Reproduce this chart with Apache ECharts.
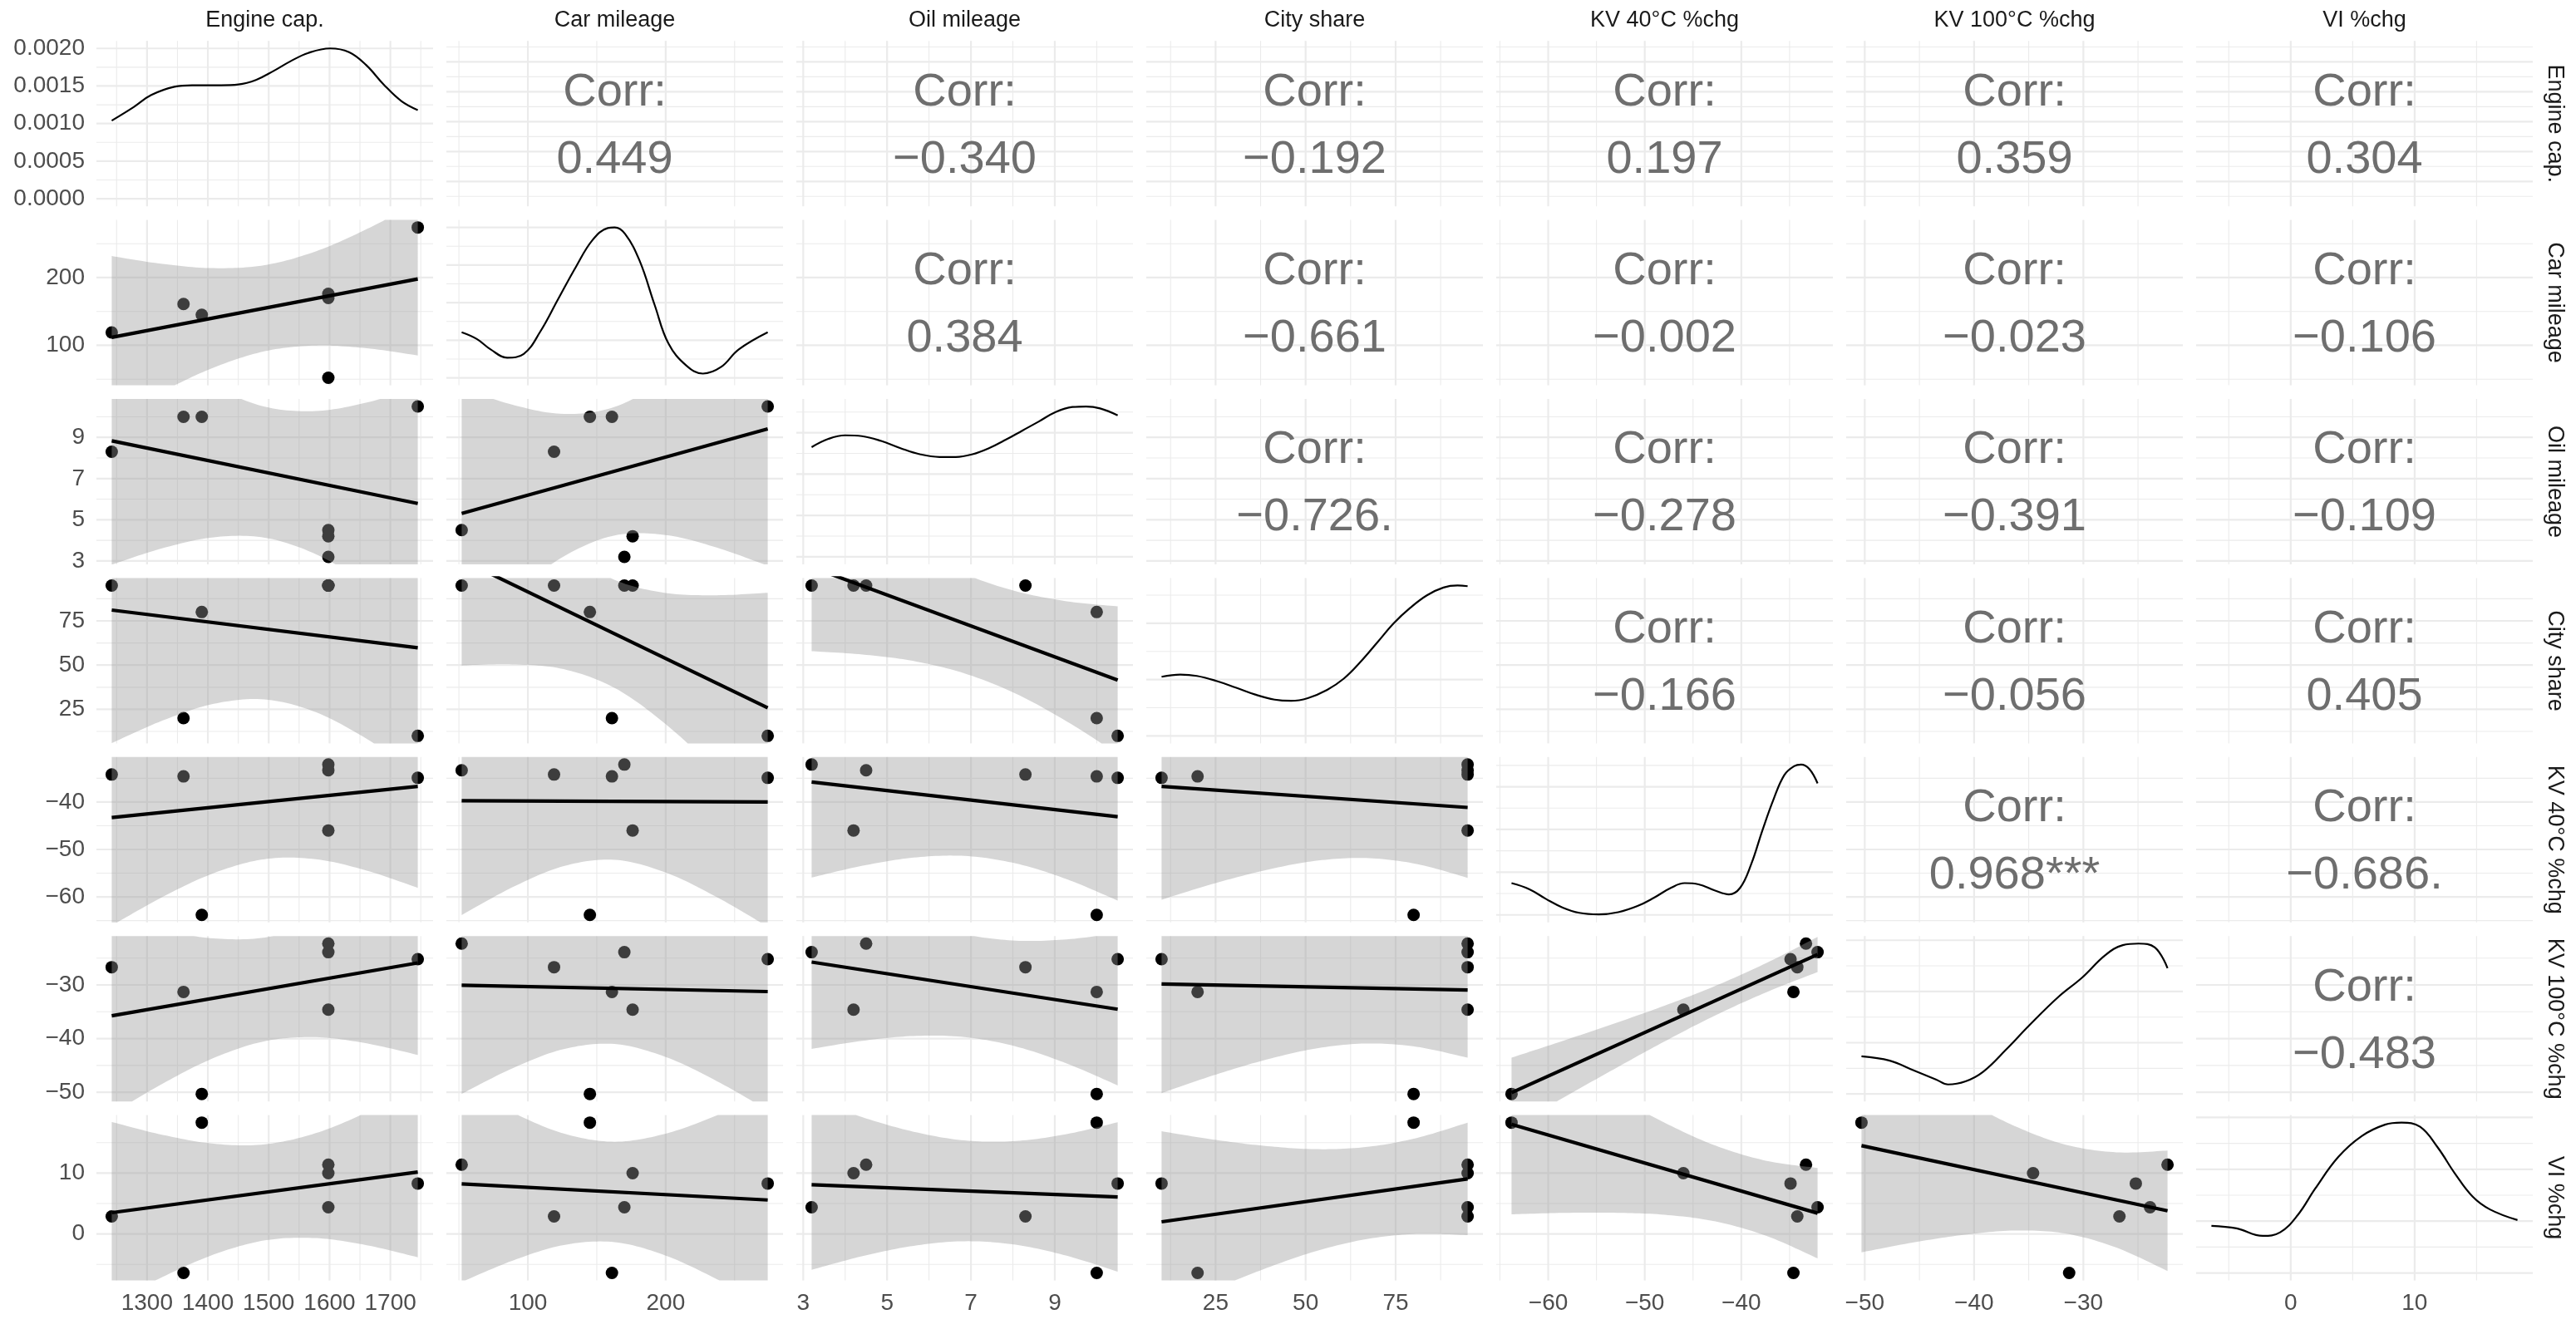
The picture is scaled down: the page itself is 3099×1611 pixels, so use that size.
<!DOCTYPE html>
<html><head><meta charset="utf-8">
<script src="https://cdn.jsdelivr.net/npm/echarts@6.0.0/dist/echarts.min.js"></script>
<style>html,body{margin:0;padding:0;background:#fff}#c{width:3099px;height:1611px}</style>
</head><body><div id="c"></div>
<script>
// ---------- variables (7 observations) ----------
const varLabels = ['Engine cap.', 'Car mileage', 'Oil mileage', 'City share', 'KV 40°C %chg', 'KV 100°C %chg', 'VI %chg'];
const engineCap  = [1242, 1360, 1390, 1598, 1598, 1598, 1745];
const carMileage = [119, 161, 145, 52, 176, 170, 274];
const oilMileage = [8.3, 10.0, 10.0, 4.5, 4.2, 3.2, 10.5];
const cityShare  = [95, 20, 80, 95, 95, 95, 10];
const kv40Chg    = [-34.2, -34.6, -63.8, -33.3, -46.0, -32.1, -34.9];
const kv100Chg   = [-26.7, -31.3, -50.3, -22.3, -34.6, -23.9, -25.2];
const viChg      = [2.9, -6.4, 18.3, 11.4, 10.0, 4.4, 8.3];

// ---------- tick values ----------
const majorENG = [1300, 1400, 1500, 1600, 1700], minorENG = [1250, 1350, 1450, 1550, 1650, 1750];
const majorCAR = [100, 200], minorCAR = [50, 150, 250];
const majorOIL = [3, 5, 7, 9], minorOIL = [4, 6, 8, 10];
const majorCITY = [25, 50, 75], minorCITY = [12.5, 37.5, 62.5, 87.5];
const majorK40 = [-60, -50, -40], minorK40 = [-65, -55, -45, -35];
const majorK100 = [-50, -40, -30], minorK100 = [-45, -35, -25];
const majorVI = [0, 10], minorVI = [-5, 5, 15];

// ---------- upper panel correlation texts ----------
const corrText = ['0.449', '\u22120.340', '\u22120.192', '0.197', '0.359', '0.304',
  '0.384', '\u22120.661', '\u22120.002', '\u22120.023', '\u22120.106',
  '\u22120.726.', '\u22120.278', '\u22120.391', '\u22120.109',
  '\u22120.166', '\u22120.056', '0.405',
  '0.968***', '\u22120.686.',
  '\u22120.483'];

// ---------- diagonal densities ----------
const dens_ENG = [[1242,0.00104],[1278,0.00122],[1307,0.00138],[1345,0.00149],[1374,0.00151],[1422,0.00151],[1450,0.00152],[1479,0.00158],[1508,0.00170],[1536,0.00183],[1565,0.00194],[1601,0.00200],[1632,0.00195],[1660,0.00178],[1689,0.00152],[1718,0.00130],[1745,0.00118]];
const dens_CAR = [[52,0.00303],[63,0.00258],[73,0.00189],[85,0.00134],[97,0.00159],[109,0.00307],[122,0.00524],[135,0.0074],[147,0.00917],[158,0.00996],[163,0.0100],[170.5,0.00957],[181,0.0078],[192,0.00484],[202,0.00228],[215,0.00081],[227,0.00028],[240,0.00071],[253,0.00189],[274,0.00303]];
const dens_OIL = [[3.2,0.0795],[3.6,0.0855],[4.0,0.0881],[4.4,0.0875],[4.86,0.0840],[5.32,0.0788],[5.78,0.0744],[6.25,0.0724],[6.64,0.0724],[7.04,0.0744],[7.43,0.0788],[7.83,0.0849],[8.23,0.0916],[8.62,0.0981],[9.02,0.1050],[9.42,0.1086],[9.75,0.1090],[10.08,0.1076],[10.5,0.1026]];
const dens_CITY = [[10,0.00525],[15.2,0.00544],[19.8,0.00532],[25.2,0.00488],[30.6,0.00429],[36.0,0.00367],[41.4,0.00322],[46.0,0.00311],[50.6,0.00335],[56.0,0.00409],[60.6,0.00508],[65.2,0.00655],[69.9,0.00829],[74.5,0.01001],[79.1,0.01138],[83.7,0.01248],[88.3,0.01317],[92.2,0.01335],[95,0.01329]];
const dens_K40 = [[-63.8,0.0186],[-61.94,0.0150],[-60.22,0.0093],[-58.5,0.0043],[-56.78,0.0012],[-54.77,0.0003],[-52.75,0.0016],[-50.75,0.0052],[-49.03,0.0101],[-47.3,0.0158],[-45.87,0.0186],[-44.43,0.0179],[-42.71,0.0142],[-41.28,0.0120],[-40.13,0.0158],[-38.98,0.0296],[-37.83,0.0492],[-36.69,0.0672],[-35.54,0.0819],[-34.54,0.0870],[-33.81,0.0880],[-32.95,0.0854],[-32.1,0.0770]];
const dens_K100 = [[-50.3,0.0147],[-47.71,0.0130],[-45.58,0.0093],[-43.45,0.0056],[-42.38,0.0037],[-40.78,0.0049],[-39.18,0.0086],[-37.05,0.0174],[-34.92,0.0269],[-32.25,0.0380],[-30.12,0.0454],[-27.99,0.0542],[-26.39,0.0581],[-24.95,0.0587],[-23.46,0.0572],[-22.3,0.0491]];
const dens_VI = [[-6.4,0.0182],[-4.37,0.0172],[-2.26,0.0143],[-0.85,0.0157],[0.56,0.0223],[1.97,0.0325],[3.85,0.0448],[5.73,0.0528],[7.61,0.0572],[8.94,0.0580],[10.44,0.0564],[11.85,0.0485],[13.26,0.0383],[14.67,0.0295],[16.08,0.0245],[18.3,0.0204]];

const densMajor_ENG = [0, 0.0005, 0.001, 0.0015, 0.002], densMinor_ENG = [0.00025, 0.00075, 0.00125, 0.00175];
const densMajor_CAR = [0, 0.0025, 0.005, 0.0075, 0.01], densMinor_CAR = [0.00125, 0.00375, 0.00625, 0.00875];
const densMajor_OIL = [0, 0.03, 0.06, 0.09], densMinor_OIL = [0.015, 0.045, 0.075, 0.105];
const densMajor_CITY = [0, 0.005, 0.01], densMinor_CITY = [0.0025, 0.0075, 0.0125];
const densMajor_K40 = [0, 0.025, 0.05, 0.075], densMinor_K40 = [0.0125, 0.0375, 0.0625, 0.0875];
const densMajor_K100 = [0, 0.02, 0.04, 0.06], densMinor_K100 = [0.01, 0.03, 0.05];
const densMajor_VI = [0, 0.02, 0.04, 0.06], densMinor_VI = [0.01, 0.03, 0.05];

// ---------- fitted lines (end points) ----------
const fit_CAR_ENG = [[1242,111.7],[1745,198.0]];
const fit_OIL_ENG = [[1242,8.83],[1745,5.79]];
const fit_CITY_ENG = [[1242,81.1],[1745,59.8]];
const fit_K40_ENG = [[1242,-43.29],[1745,-36.69]];
const fit_K100_ENG = [[1242,-35.75],[1745,-25.90]];
const fit_VI_ENG = [[1242,3.51],[1745,10.18]];
const fit_OIL_CAR = [[52,5.31],[274,9.41]];
const fit_CITY_CAR = [[52,109.5],[274,25.8]];
const fit_K40_CAR = [[52,-39.72],[274,-39.98]];
const fit_K100_CAR = [[52,-30.06],[274,-31.24]];
const fit_VI_CAR = [[52,8.24],[274,5.59]];
const fit_CITY_OIL = [[3.2,105.4],[10.5,41.5]];
const fit_K40_OIL = [[3.2,-35.80],[10.5,-43.10]];
const fit_K100_OIL = [[3.2,-25.75],[10.5,-34.53]];
const fit_VI_OIL = [[3.2,8.10],[10.5,6.09]];
const fit_K40_CITY = [[10,-36.71],[95,-41.15]];
const fit_K100_CITY = [[10,-29.83],[95,-30.94]];
const fit_VI_CITY = [[10,2.00],[95,9.06]];
const fit_K100_K40 = [[-63.8,-50.05],[-32.1,-24.33]];
const fit_VI_K40 = [[-63.8,18.01],[-32.1,3.42]];
const fit_VI_K100 = [[-50.3,14.51],[-22.3,3.81]];

// ---------- confidence bands [x, lower, upper] ----------
const band_CAR_ENG = [[1242,-8.4,231.8],[1325.8,32.1,220.1],[1409.7,67.1,213.9],[1493.5,91.2,218.4],[1577.3,99.7,238.7],[1661.2,95.6,271.6],[1745,85.0,311.0]];
const band_OIL_ENG = [[1242,2.82,14.83],[1325.8,3.62,13.02],[1409.7,4.15,11.48],[1493.5,4.13,10.49],[1577.3,3.33,10.28],[1661.2,1.90,10.69],[1745,0.15,11.44]];
const band_CITY_ENG = [[1242,5.9,156.3],[1325.8,18.7,136.4],[1409.7,28.1,120.0],[1493.5,30.6,110.3],[1577.3,23.4,110.5],[1661.2,8.3,118.5],[1745,-10.9,130.6]];
const band_K40_ENG = [[1242,-66.05,-20.53],[1325.8,-60.0,-24.37],[1409.7,-54.99,-27.18],[1493.5,-52.04,-27.94],[1577.3,-52.06,-25.71],[1661.2,-54.46,-21.11],[1745,-58.10,-15.27]];
const band_K100_ENG = [[1242,-53.97,-17.53],[1325.8,-48.37,-19.85],[1409.7,-43.60,-21.34],[1493.5,-40.48,-21.18],[1577.3,-39.73,-18.65],[1661.2,-40.89,-14.20],[1745,-43.04,-8.76]];
const band_VI_ENG = [[1242,-11.39,18.40],[1325.8,-7.04,16.28],[1409.7,-3.37,14.83],[1493.5,-1.05,14.73],[1577.3,-0.67,16.57],[1661.2,-1.84,19.98],[1745,-3.83,24.19]];
const band_OIL_CAR = [[52,-0.78,11.40],[89,1.40,10.58],[126,3.22,10.14],[163,4.24,10.48],[200,4.26,11.83],[237,3.65,13.80],[274,2.77,16.05]];
const band_CITY_CAR = [[52,49.8,169.2],[89,50.5,140.5],[126,47.7,115.5],[163,37.1,98.2],[200,16.6,90.8],[237,-10.0,89.5],[274,-39.3,90.9]];
const band_K40_CAR = [[52,-63.84,-15.60],[89,-57.95,-21.58],[126,-53.51,-26.11],[163,-52.19,-27.51],[200,-54.87,-24.91],[237,-60.04,-19.84],[274,-66.28,-13.68]];
const band_K100_CAR = [[52,-50.29,-9.82],[89,-45.51,-14.99],[126,-41.95,-18.95],[163,-41.00,-20.30],[200,-43.42,-18.28],[237,-47.90,-14.18],[274,-53.31,-9.17]];
const band_VI_CAR = [[52,-7.89,24.37],[89,-4.37,19.95],[126,-1.81,16.51],[163,-1.34,15.16],[200,-3.55,16.49],[237,-7.41,19.47],[274,-12.00,23.18]];
const band_CITY_OIL = [[3.2,57.9,152.8],[4.417,56.0,133.4],[5.633,52.3,115.9],[6.85,45.3,101.5],[8.067,33.9,91.8],[9.283,18.2,86.1],[10.5,-0.2,83.2]];
const band_K40_OIL = [[3.2,-55.92,-15.68],[4.417,-53.43,-20.61],[5.633,-51.72,-24.74],[6.85,-51.37,-27.53],[8.067,-52.94,-28.40],[9.283,-56.26,-27.50],[10.5,-60.77,-25.43]];
const band_K100_OIL = [[3.2,-41.90,-9.60],[4.417,-40.40,-14.04],[5.633,-39.51,-17.85],[6.85,-39.71,-20.57],[8.067,-41.45,-21.75],[9.283,-44.62,-21.52],[10.5,-48.71,-20.35]];
const band_VI_OIL = [[3.2,-5.88,22.08],[4.417,-3.63,19.17],[5.633,-1.94,16.80],[6.85,-1.19,15.37],[8.067,-1.76,15.28],[9.283,-3.57,16.41],[10.5,-6.18,18.36]];
const band_K40_CITY = [[10,-60.59,-12.83],[24.17,-57.28,-17.62],[38.33,-54.46,-21.92],[52.5,-52.43,-25.43],[66.67,-51.81,-27.53],[80.83,-53.06,-27.76],[95,-55.98,-26.32]];
const band_K100_CITY = [[10,-50.15,-9.51],[24.17,-46.89,-13.15],[38.33,-44.05,-16.35],[52.5,-41.88,-18.90],[66.67,-40.91,-20.23],[80.83,-41.52,-19.99],[95,-43.56,-18.32]];
const band_VI_CITY = [[10,-12.88,16.88],[24.17,-9.17,15.53],[38.33,-5.78,14.50],[52.5,-2.88,13.94],[66.67,-0.86,14.28],[80.83,0.01,15.77],[95,-0.18,18.30]];
const band_K100_K40 = [[-63.8,-56.55,-43.55],[-58.52,-51.09,-40.44],[-53.23,-45.73,-37.23],[-47.95,-40.52,-33.87],[-42.67,-35.65,-30.17],[-37.38,-31.34,-25.90],[-32.1,-27.60,-21.06]];
const band_VI_K40 = [[-63.8,3.23,32.79],[-58.52,3.47,27.69],[-53.23,3.49,22.81],[-47.95,3.16,18.28],[-42.67,2.06,14.52],[-37.38,-0.32,12.02],[-32.1,-4.01,10.85]];
const band_VI_K100 = [[-50.3,-3.00,32.02],[-45.63,-1.42,26.88],[-40.97,-0.14,22.03],[-36.3,0.57,17.75],[-31.63,0.08,14.68],[-26.97,-2.24,13.42],[-22.3,-6.08,13.70]];

// ---------- assemble ----------
const V = [
  {data: engineCap, major: majorENG, minor: minorENG, dens: dens_ENG, dMajor: densMajor_ENG, dMinor: densMinor_ENG},
  {data: carMileage, major: majorCAR, minor: minorCAR, dens: dens_CAR, dMajor: densMajor_CAR, dMinor: densMinor_CAR},
  {data: oilMileage, major: majorOIL, minor: minorOIL, dens: dens_OIL, dMajor: densMajor_OIL, dMinor: densMinor_OIL},
  {data: cityShare, major: majorCITY, minor: minorCITY, dens: dens_CITY, dMajor: densMajor_CITY, dMinor: densMinor_CITY},
  {data: kv40Chg, major: majorK40, minor: minorK40, dens: dens_K40, dMajor: densMajor_K40, dMinor: densMinor_K40},
  {data: kv100Chg, major: majorK100, minor: minorK100, dens: dens_K100, dMajor: densMajor_K100, dMinor: densMinor_K100},
  {data: viChg, major: majorVI, minor: minorVI, dens: dens_VI, dMajor: densMajor_VI, dMinor: densMinor_VI}
];
const lowerBands = {
  '1-0': band_CAR_ENG, '2-0': band_OIL_ENG, '3-0': band_CITY_ENG, '4-0': band_K40_ENG, '5-0': band_K100_ENG, '6-0': band_VI_ENG,
  '2-1': band_OIL_CAR, '3-1': band_CITY_CAR, '4-1': band_K40_CAR, '5-1': band_K100_CAR, '6-1': band_VI_CAR,
  '3-2': band_CITY_OIL, '4-2': band_K40_OIL, '5-2': band_K100_OIL, '6-2': band_VI_OIL,
  '4-3': band_K40_CITY, '5-3': band_K100_CITY, '6-3': band_VI_CITY,
  '5-4': band_K100_K40, '6-4': band_VI_K40, '6-5': band_VI_K100
};
const lowerFits = {
  '1-0': fit_CAR_ENG, '2-0': fit_OIL_ENG, '3-0': fit_CITY_ENG, '4-0': fit_K40_ENG, '5-0': fit_K100_ENG, '6-0': fit_VI_ENG,
  '2-1': fit_OIL_CAR, '3-1': fit_CITY_CAR, '4-1': fit_K40_CAR, '5-1': fit_K100_CAR, '6-1': fit_VI_CAR,
  '3-2': fit_CITY_OIL, '4-2': fit_K40_OIL, '5-2': fit_K100_OIL, '6-2': fit_VI_OIL,
  '4-3': fit_K40_CITY, '5-3': fit_K100_CITY, '6-3': fit_VI_CITY,
  '5-4': fit_K100_K40, '6-4': fit_VI_K40, '6-5': fit_VI_K100
};

const FONT = '"Liberation Sans", Arial, sans-serif';
const PL = 116, PT = 49.2, PW = 405, PH = 199, DX = 421, DY = 215.4;
const ext = V.map(v => { const mn = Math.min(...v.data), mx = Math.max(...v.data), r = mx - mn; return [mn - 0.05 * r, mx + 0.05 * r]; });
const dExt = V.map(v => { const m = Math.max(...v.dens.map(p => p[1])); return [-0.05 * m, 1.05 * m]; });
const fmt = v => String(v).replace('-', '\u2212');

// Catmull-Rom curve through screen points (rendering only)
function spline(pts) {
  const out = [], n = pts.length, S = 14;
  for (let i = 0; i < n - 1; i++) {
    const p0 = pts[Math.max(i - 1, 0)], p1 = pts[i], p2 = pts[i + 1], p3 = pts[Math.min(i + 2, n - 1)];
    for (let s = 0; s < S; s++) {
      const t = s / S, t2 = t * t, t3 = t2 * t;
      const f = k => 0.5 * (2 * p1[k] + (-p0[k] + p2[k]) * t + (2 * p0[k] - 5 * p1[k] + 4 * p2[k] - p3[k]) * t2 + (-p0[k] + 3 * p1[k] - 3 * p2[k] + p3[k]) * t3);
      out.push([f(0), f(1)]);
    }
  }
  out.push(pts[n - 1]);
  return out;
}
// clip a polygon to the panel rectangle (Sutherland-Hodgman)
function clipPoly(poly, r) {
  const edges = [
    [p => p[0] >= r.x, (a, b) => { const t = (r.x - a[0]) / (b[0] - a[0]); return [r.x, a[1] + t * (b[1] - a[1])]; }],
    [p => p[0] <= r.x + r.width, (a, b) => { const X = r.x + r.width, t = (X - a[0]) / (b[0] - a[0]); return [X, a[1] + t * (b[1] - a[1])]; }],
    [p => p[1] >= r.y, (a, b) => { const t = (r.y - a[1]) / (b[1] - a[1]); return [a[0] + t * (b[0] - a[0]), r.y]; }],
    [p => p[1] <= r.y + r.height, (a, b) => { const Y = r.y + r.height, t = (Y - a[1]) / (b[1] - a[1]); return [a[0] + t * (b[0] - a[0]), Y]; }]
  ];
  let out = poly;
  edges.forEach(([inside, cut]) => {
    const inp = out; out = [];
    for (let k = 0; k < inp.length; k++) {
      const cur = inp[k], prev = inp[(k + inp.length - 1) % inp.length];
      const ci = inside(cur), pi = inside(prev);
      if (ci) { if (!pi) out.push(cut(prev, cur)); out.push(cur); }
      else if (pi) out.push(cut(prev, cur));
    }
  });
  return out;
}

const grids = [], xAxes = [], yAxes = [], series = [];
let corrIdx = 0;
const labelStyle = {color: '#4d4d4d', fontSize: 28, fontFamily: FONT, margin: 14};
for (let i = 0; i < 7; i++) {
  for (let j = 0; j < 7; j++) {
    const g = i * 7 + j;
    grids.push({left: PL + j * DX, top: PT + i * DY, width: PW, height: PH, containLabel: false, outerBoundsMode: 'none'});
    const xe = ext[j], ye = (i === j) ? dExt[i] : ext[i];
    const mid = [(xe[0] + xe[1]) / 2, (ye[0] + ye[1]) / 2];
    xAxes.push({type: 'value', gridIndex: g, min: xe[0], max: xe[1], axisLine: {show: false}, axisTick: {show: false}, splitLine: {show: false},
      axisLabel: i === 6 ? Object.assign({show: true, customValues: V[j].major, formatter: fmt}, labelStyle) : {show: false}});
    let yLab = {show: false};
    if (j === 0) {
      yLab = Object.assign({show: true, customValues: i === 0 ? V[0].dMajor : V[i].major,
        formatter: i === 0 ? (v => Number(v).toFixed(4)) : fmt}, labelStyle);
    }
    yAxes.push({type: 'value', gridIndex: g, min: ye[0], max: ye[1], axisLine: {show: false}, axisTick: {show: false}, splitLine: {show: false}, axisLabel: yLab});

    const vLines = V[j].major.map(v => [v, 1]).concat(V[j].minor.map(v => [v, 0]));
    const hMaj = i === j ? V[i].dMajor : V[i].major, hMin = i === j ? V[i].dMinor : V[i].minor;
    const hLines = hMaj.map(v => [v, 1]).concat(hMin.map(v => [v, 0]));
    const isLower = i > j;
    const key = i + '-' + j;
    const band = isLower ? lowerBands[key] : null;
    const pts = isLower ? V[j].data.map((x, k) => [x, V[i].data[k]]) : [];

    // panel layer: grid lines, points, confidence band (all positioned through the axis scales)
    series.push({type: 'custom', xAxisIndex: g, yAxisIndex: g, z: 2, silent: true, clip: false, data: [mid],
      renderItem: (params, api) => {
        const cs = params.coordSys, children = [];
        vLines.forEach(l => { const px = api.coord([l[0], mid[1]])[0];
          children.push({type: 'line', shape: {x1: px, y1: cs.y, x2: px, y2: cs.y + cs.height}, style: {stroke: '#ebebeb', lineWidth: l[1] ? 2.2 : 1.1, fill: null}}); });
        hLines.forEach(l => { const py = api.coord([mid[0], l[0]])[1];
          children.push({type: 'line', shape: {x1: cs.x, y1: py, x2: cs.x + cs.width, y2: py}, style: {stroke: '#ebebeb', lineWidth: l[1] ? 2.2 : 1.1, fill: null}}); });
        if (isLower) {
          pts.forEach(p => { const c = api.coord(p);
            children.push({type: 'circle', shape: {cx: c[0], cy: c[1], r: 7.5}, style: {fill: '#000', stroke: null}}); });
          const up = band.map(p => api.coord([p[0], p[2]]));
          const lo = band.map(p => api.coord([p[0], p[1]]));
          const poly = clipPoly(spline(up).concat(spline(lo).reverse()), cs);
          if (poly.length >= 3) children.push({type: 'polygon', shape: {points: poly}, style: {fill: 'rgba(153,153,153,0.4)', stroke: null}});
        }
        return {type: 'group', children: children};
      }});

    if (i === j) {
      series.push({type: 'line', xAxisIndex: g, yAxisIndex: g, data: V[i].dens, smooth: 0.4, symbol: 'none', z: 4, silent: true,
        lineStyle: {color: '#000', width: 2.2}});
    } else if (isLower) {
      series.push({type: 'line', xAxisIndex: g, yAxisIndex: g, data: lowerFits[key], symbol: 'none', z: 4, silent: true, clip: true,
        lineStyle: {color: '#000', width: 4.2}});
    } else {
      const txt = corrText[corrIdx++];
      series.push({type: 'custom', xAxisIndex: g, yAxisIndex: g, z: 5, silent: true,
        data: [mid],
        renderItem: (params, api) => {
          const c = api.coord([api.value(0), api.value(1)]);
          return {type: 'text', x: c[0], y: c[1] + 3,
            style: {text: 'Corr:\n' + txt, fill: '#6e6e6e', fontSize: 56, fontFamily: FONT, align: 'center', verticalAlign: 'middle', lineHeight: 81}};
        }});
    }
  }
}

const graphics = [];
for (let j = 0; j < 7; j++) {
  graphics.push({type: 'text', x: PL + j * DX + PW / 2, y: 25,
    style: {text: varLabels[j], fill: '#1a1a1a', fontSize: 27, fontFamily: FONT, align: 'center', verticalAlign: 'middle'}});
}
for (let i = 0; i < 7; i++) {
  graphics.push({type: 'text', x: 3073, y: PT + i * DY + PH / 2, rotation: -Math.PI / 2,
    style: {text: varLabels[i], fill: '#1a1a1a', fontSize: 27, fontFamily: FONT, align: 'center', verticalAlign: 'middle'}});
}

const chart = echarts.init(document.getElementById('c'), null, {renderer: 'canvas', width: 3099, height: 1611});
chart.setOption({
  backgroundColor: '#ffffff',
  animation: false,
  grid: grids, xAxis: xAxes, yAxis: yAxes, series: series, graphic: graphics
});
</script></body></html>
